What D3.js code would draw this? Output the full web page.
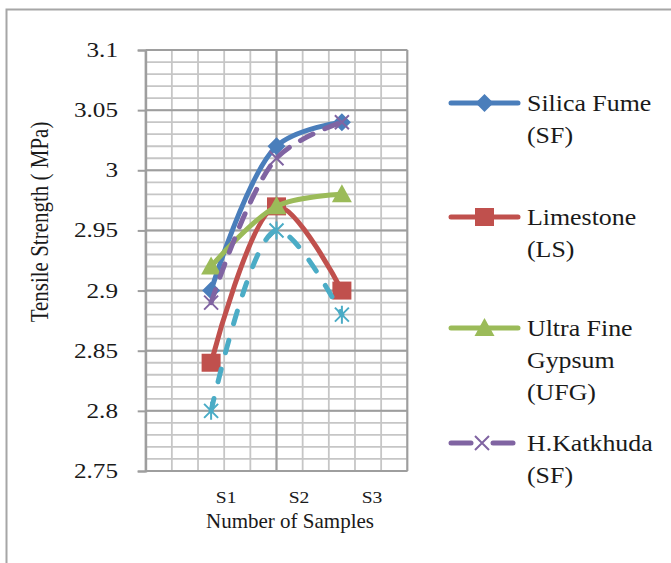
<!DOCTYPE html>
<html>
<head>
<meta charset="utf-8">
<script src="https://cdn.jsdelivr.net/npm/d3@7"></script>
<style>
  body { margin: 0; background: #fff; }
</style>
</head>
<body>
<div id="chart"></div>
<script>
// sample positions on the x axis and their labels
const samples = [1, 2, 3];
const sampleLabels = ['S1', 'S2', 'S3'];

const silicaFume = [2.90, 3.02, 3.04];
const limestone = [2.84, 2.97, 2.90];
const ultraFineGypsum = [2.92, 2.97, 2.98];
const katkhuda = [2.89, 3.01, 3.04];
const unnamed = [2.80, 2.95, 2.88];

const yTicks = [2.75, 2.8, 2.85, 2.9, 2.95, 3, 3.05, 3.1];

const series = [
  { name: ['Silica Fume', '(SF)'], values: silicaFume, color: '#4a7ebb', marker: 'diamond', dash: null, legend: true },
  { name: ['Limestone', '(LS)'], values: limestone, color: '#c0504d', marker: 'square', dash: null, legend: true },
  { name: ['Ultra Fine', 'Gypsum', '(UFG)'], values: ultraFineGypsum, color: '#9bbb59', marker: 'triangle', dash: null, legend: true },
  { name: ['H.Katkhuda', '(SF)'], values: katkhuda, color: '#8064a2', marker: 'cross', dash: '14,13', legend: true },
  { name: [], values: unnamed, color: '#4bacc6', marker: 'star', dash: '13,17', legend: false }
];

const width = 671, height = 563;
const plot = { left: 145.7, right: 407.3, top: 50, bottom: 471 };
const serif = "'Liberation Serif', 'Times New Roman', Times, 'DejaVu Serif', serif";

const svg = d3.select('#chart').append('svg')
  .attr('width', width)
  .attr('height', height);

// outer chart frame
svg.append('rect')
  .attr('x', 6.5).attr('y', 9.5)
  .attr('width', 720).attr('height', 620)
  .attr('fill', '#fff')
  .attr('stroke', '#a6a6a6')
  .attr('stroke-width', 2);

const x = d3.scaleLinear().domain([0, 4]).range([plot.left, plot.right]);
const y = d3.scaleLinear().domain([2.75, 3.1]).range([plot.bottom, plot.top]);

// gridlines
const grid = svg.append('g');
const minorX = d3.range(0, 4.0001, 0.4);
const minorY = d3.range(2.75, 3.1001, 0.01);
grid.selectAll('.vminor').data(minorX).enter().append('line')
  .attr('x1', d => x(d)).attr('x2', d => x(d))
  .attr('y1', plot.top).attr('y2', plot.bottom)
  .attr('stroke', '#c6c6c6').attr('stroke-width', 1.8);
grid.selectAll('.hminor').data(minorY).enter().append('line')
  .attr('x1', plot.left).attr('x2', plot.right)
  .attr('y1', d => y(d)).attr('y2', d => y(d))
  .attr('stroke', '#c6c6c6').attr('stroke-width', 1.8);
grid.selectAll('.hmajor').data(yTicks).enter().append('line')
  .attr('x1', plot.left).attr('x2', plot.right)
  .attr('y1', d => y(d)).attr('y2', d => y(d))
  .attr('stroke', '#9e9e9e').attr('stroke-width', 2);
grid.selectAll('.vmajor').data([0, 2, 4]).enter().append('line')
  .attr('x1', d => x(d)).attr('x2', d => x(d))
  .attr('y1', plot.top).attr('y2', plot.bottom)
  .attr('stroke', '#9e9e9e').attr('stroke-width', 2);

// y axis
const yAxis = svg.append('g')
  .attr('transform', `translate(${plot.left},0)`)
  .call(d3.axisLeft(y).tickValues(yTicks).tickSize(8).tickFormat(d3.format('')));
yAxis.select('.domain').attr('stroke', '#9e9e9e').attr('stroke-width', 2);
yAxis.selectAll('.tick line').attr('stroke', '#9e9e9e').attr('stroke-width', 2);
yAxis.selectAll('.tick text').remove();
svg.append('g').selectAll('text').data(yTicks).enter().append('text')
  .attr('transform', d => `translate(118,${y(d) + 7}) scale(1.2,1)`)
  .attr('text-anchor', 'end')
  .attr('font-family', serif)
  .attr('font-size', 21)
  .attr('fill', '#1a1a1a')
  .text(d => d3.format('')(d));

// x axis line
svg.append('line')
  .attr('x1', plot.left).attr('x2', plot.right)
  .attr('y1', plot.bottom).attr('y2', plot.bottom)
  .attr('stroke', '#9e9e9e').attr('stroke-width', 2);

// sample labels sit under the axis, a little right of the points
const labelScale = d3.scalePoint().domain(sampleLabels).range([x(1.23), x(3.46)]);
svg.append('g').selectAll('text').data(sampleLabels).enter().append('text')
  .attr('transform', d => `translate(${labelScale(d)},503) scale(1.15,1)`)
  .attr('text-anchor', 'middle')
  .attr('font-family', serif)
  .attr('font-size', 17)
  .attr('fill', '#1a1a1a')
  .text(d => d);

svg.append('text')
  .attr('transform', `translate(290,528)`)
  .attr('text-anchor', 'middle')
  .attr('font-family', serif)
  .attr('font-size', 21)
  .attr('fill', '#1a1a1a')
  .text('Number of Samples');

svg.append('text')
  .attr('transform', `translate(48,222) scale(1.15,1) rotate(-90)`)
  .attr('text-anchor', 'middle')
  .attr('font-family', serif)
  .attr('font-size', 21)
  .attr('fill', '#1a1a1a')
  .text('Tensile Strength ( MPa)');

// markers
function drawMarker(g, type, color) {
  if (type === 'diamond') {
    g.append('path').attr('d', 'M0,-9L9,0L0,9L-9,0Z').attr('fill', color);
  } else if (type === 'square') {
    g.append('rect').attr('x', -9.5).attr('y', -9).attr('width', 19).attr('height', 18).attr('fill', color);
  } else if (type === 'triangle') {
    g.append('path').attr('d', 'M0,-10L10,8L-10,8Z').attr('fill', color);
  } else if (type === 'cross') {
    g.append('path').attr('d', 'M-7,-7L7,7M-7,7L7,-7').attr('stroke', color).attr('stroke-width', 2).attr('fill', 'none');
  } else if (type === 'star') {
    g.append('path').attr('d', 'M-7,-7L7,7M-7,7L7,-7M0,-9L0,9').attr('stroke', color).attr('stroke-width', 2).attr('fill', 'none');
  }
}

const line = d3.line()
  .x((d, i) => x(samples[i]))
  .y(d => y(d))
  .curve(d3.curveCatmullRom.alpha(0.5));

series.forEach(s => {
  const g = svg.append('g');
  g.append('path')
    .attr('d', line(s.values))
    .attr('fill', 'none')
    .attr('stroke', s.color)
    .attr('stroke-width', 5)
    .attr('stroke-linecap', 'round')
    .attr('stroke-dasharray', s.dash);
  s.values.forEach((v, i) => {
    const m = g.append('g').attr('transform', `translate(${x(samples[i])},${y(v)})`);
    drawMarker(m, s.marker, s.color);
  });
});

// legend
const legendY = [103, 217, 328, 443];
const legend = svg.append('g');
series.filter(s => s.legend).forEach((s, i) => {
  const g = legend.append('g').attr('transform', `translate(0,${legendY[i]})`);
  if (s.dash) {
    g.append('line').attr('x1', 451).attr('x2', 471).attr('y1', 0).attr('y2', 0)
      .attr('stroke', s.color).attr('stroke-width', 5).attr('stroke-linecap', 'round');
    g.append('line').attr('x1', 493).attr('x2', 513).attr('y1', 0).attr('y2', 0)
      .attr('stroke', s.color).attr('stroke-width', 5).attr('stroke-linecap', 'round');
  } else {
    g.append('line').attr('x1', 451).attr('x2', 518).attr('y1', 0).attr('y2', 0)
      .attr('stroke', s.color).attr('stroke-width', 5).attr('stroke-linecap', 'round');
  }
  drawMarker(g.append('g').attr('transform', `translate(${s.dash ? 482 : 484.5},0)`), s.marker, s.color);
  s.name.forEach((t, j) => {
    g.append('text')
      .attr('transform', `translate(527,${7.5 + j * 32}) scale(1.15,1)`)
      .attr('font-family', serif)
      .attr('font-size', 22.5)
      .attr('fill', '#1a1a1a')
      .text(t);
  });
});
</script>
</body>
</html>
